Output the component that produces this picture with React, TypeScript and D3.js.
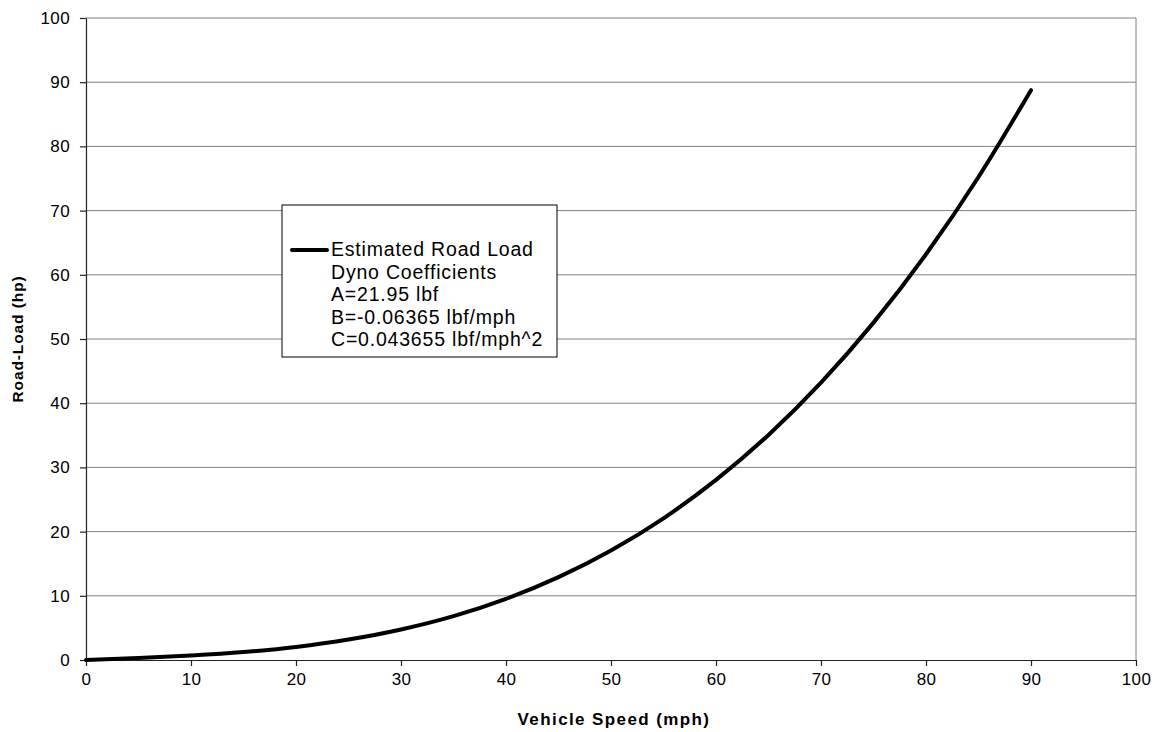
import { useEffect, useRef } from 'react';
import * as d3 from 'd3';

// values
const speeds = [0, 5, 10, 15, 20, 25, 30, 35, 40, 45, 50, 55, 60, 65, 70, 75, 80, 85, 90];
const roadLoad = [0, 0.3, 0.69, 1.23, 2.03, 3.18, 4.75, 6.83, 9.52, 12.9, 17.05, 22.07, 28.05, 35.06, 43.2, 52.55, 63.2, 75.24, 88.76];
const xTicks = [0, 10, 20, 30, 40, 50, 60, 70, 80, 90, 100];
const yTicks = [0, 10, 20, 30, 40, 50, 60, 70, 80, 90, 100];
const legendLines = [
  'Estimated Road Load',
  'Dyno Coefficients',
  'A=21.95 lbf',
  'B=-0.06365 lbf/mph',
  'C=0.043655 lbf/mph^2',
];

export default function App() {
  const svgRef = useRef<SVGSVGElement>(null);

  useEffect(() => {
    if (!svgRef.current) return;
    const width = 1158;
    const height = 732;
    const margin = { top: 18, right: 22, bottom: 72, left: 86 };
    const font = 'Arial, "Liberation Sans", sans-serif';

    const svg = d3.select(svgRef.current);
    svg.selectAll('*').remove();

    const x = d3.scaleLinear().domain([0, 100]).range([margin.left, width - margin.right]);
    const y = d3.scaleLinear().domain([0, 100]).range([height - margin.bottom, margin.top]);

    // gridlines
    svg.append('g')
      .selectAll('line')
      .data(yTicks.filter(d => d > 0))
      .join('line')
      .attr('x1', x(0)).attr('x2', x(100))
      .attr('y1', d => y(d)).attr('y2', d => y(d))
      .attr('stroke', '#808080').attr('stroke-width', 1);

    // right border
    svg.append('line')
      .attr('x1', x(100)).attr('x2', x(100))
      .attr('y1', y(0)).attr('y2', y(100))
      .attr('stroke', '#808080');

    const xAxis = svg.append('g')
      .attr('transform', `translate(0,${y(0)})`)
      .call(d3.axisBottom(x).tickValues(xTicks).tickSize(6).tickSizeOuter(0).tickPadding(7));
    const yAxis = svg.append('g')
      .attr('transform', `translate(${x(0)},0)`)
      .call(d3.axisLeft(y).tickValues(yTicks).tickSize(6).tickSizeOuter(0).tickPadding(10));

    [xAxis, yAxis].forEach(a => {
      a.selectAll('.domain, .tick line').attr('stroke', '#222').attr('stroke-width', 1.2);
      a.selectAll('text')
        .attr('font-family', font)
        .attr('font-size', 17)
        .attr('letter-spacing', 0.4)
        .attr('fill', '#000');
    });

    // curve
    const line = d3.line<number>()
      .x((_, i) => x(speeds[i]))
      .y(d => y(d))
      .curve(d3.curveMonotoneX);
    svg.append('path')
      .datum(roadLoad)
      .attr('d', line)
      .attr('fill', 'none')
      .attr('stroke', '#000')
      .attr('stroke-width', 4)
      .attr('stroke-linecap', 'round');

    // legend
    const lg = svg.append('g');
    lg.append('rect')
      .attr('x', 282).attr('y', 205).attr('width', 275).attr('height', 152)
      .attr('fill', '#fff').attr('stroke', '#000').attr('stroke-width', 1);
    lg.append('line')
      .attr('x1', 292).attr('x2', 327).attr('y1', 250).attr('y2', 250)
      .attr('stroke', '#000').attr('stroke-width', 4).attr('stroke-linecap', 'round');
    lg.selectAll('text')
      .data(legendLines)
      .join('text')
      .attr('x', 331)
      .attr('y', (_, i) => 256 + i * 22.5)
      .attr('font-family', font)
      .attr('font-size', 19.5)
      .attr('letter-spacing', 0.8)
      .text(d => d);

    // axis titles
    svg.append('text')
      .attr('x', 614)
      .attr('y', 725)
      .attr('text-anchor', 'middle')
      .attr('font-family', font)
      .attr('font-size', 17)
      .attr('letter-spacing', 1.4)
      .attr('font-weight', 'bold')
      .text('Vehicle Speed (mph)');
    svg.append('text')
      .attr('transform', `translate(23,${(y(0) + y(100)) / 2}) rotate(-90)`)
      .attr('text-anchor', 'middle')
      .attr('font-family', font)
      .attr('font-size', 15.5)
      .attr('letter-spacing', 0.9)
      .attr('font-weight', 'bold')
      .text('Road-Load (hp)');
  }, []);

  return (
    <svg
      ref={svgRef}
      width={1158}
      height={732}
      style={{ position: 'absolute', left: 0, top: 0, background: '#fff' }}
    />
  );
}
